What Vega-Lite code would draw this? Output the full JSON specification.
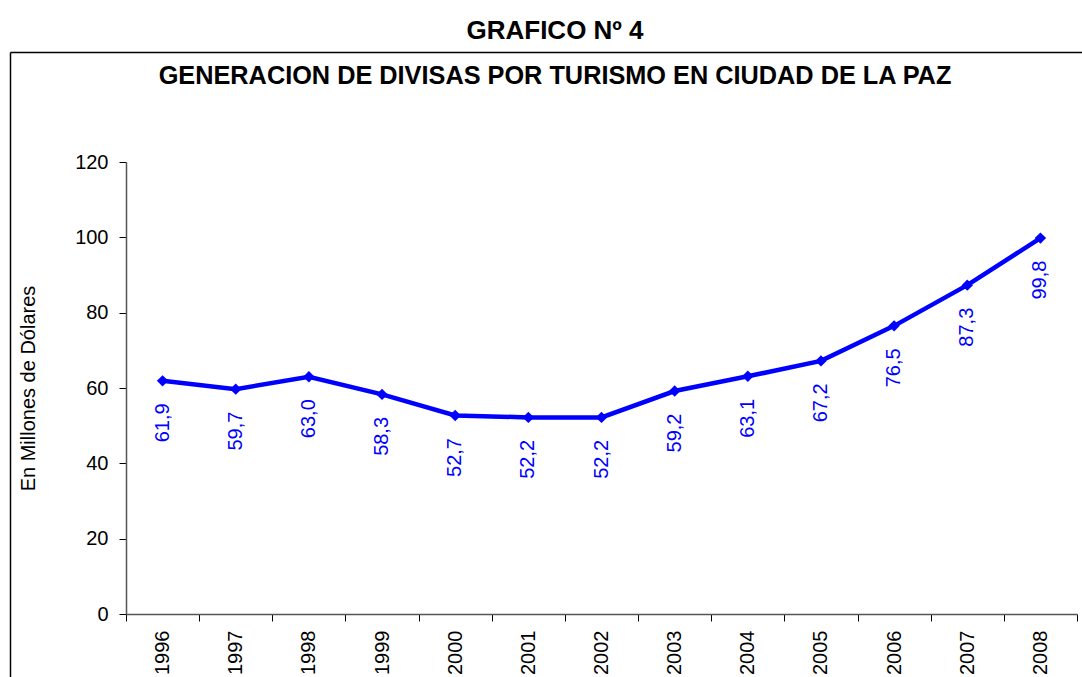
{
  "$schema": "https://vega.github.io/schema/vega-lite/v6.json",
  "autosize": "none",
  "width": 1110,
  "height": 650,
  "padding": {"left": 10, "top": 52, "right": 0, "bottom": 0},
  "background": "white",
  "config": {
    "view": {"stroke": null},
    "font": "Liberation Sans",
    "locale": {"number": {"decimal": ",", "thousands": ".", "grouping": [3], "currency": ["", ""]}}
  },
  "title": {
    "text": "GRAFICO Nº 4",
    "subtitle": "GENERACION DE DIVISAS POR TURISMO EN CIUDAD DE LA PAZ",
    "anchor": "middle",
    "frame": "group",
    "dx": -10,
    "font": "Liberation Sans",
    "fontSize": 26,
    "fontWeight": "bold",
    "color": "#000000",
    "subtitleFont": "Liberation Sans",
    "subtitleFontSize": 25.3,
    "subtitleFontWeight": "bold",
    "subtitleColor": "#000000",
    "subtitlePadding": 20,
    "offset": -40
  },
  "data": {
    "values": [
      {"anio": "1996", "valor": 61.9},
      {"anio": "1997", "valor": 59.7},
      {"anio": "1998", "valor": 63.0},
      {"anio": "1999", "valor": 58.3},
      {"anio": "2000", "valor": 52.7},
      {"anio": "2001", "valor": 52.2},
      {"anio": "2002", "valor": 52.2},
      {"anio": "2003", "valor": 59.2},
      {"anio": "2004", "valor": 63.1},
      {"anio": "2005", "valor": 67.2},
      {"anio": "2006", "valor": 76.5},
      {"anio": "2007", "valor": 87.3},
      {"anio": "2008", "valor": 99.8}
    ]
  },
  "resolve": {"scale": {"x": "independent", "y": "independent"}},
  "layer": [
    {
      "data": {"values": [{"bx": 0, "by": 0}, {"bx": 1, "by": 1}]},
      "mark": {"type": "point", "opacity": 0},
      "encoding": {
        "x": {
          "field": "bx",
          "type": "quantitative",
          "scale": {"domain": [0, 1], "range": [0, 1110], "nice": false},
          "axis": {"orient": "top", "offset": 0, "title": null, "labels": false, "ticks": false, "grid": false, "domainColor": "#000000", "domainWidth": 1.5}
        },
        "y": {
          "field": "by",
          "type": "quantitative",
          "scale": {"domain": [0, 1], "range": [650, 0], "nice": false},
          "axis": {"orient": "left", "offset": 0, "title": null, "labels": false, "ticks": false, "grid": false, "domainColor": "#000000", "domainWidth": 1.5}
        }
      }
    },
    {
      "encoding": {
        "x": {
          "field": "anio",
          "type": "ordinal",
          "scale": {"type": "band", "range": [116, 1067], "paddingInner": 0, "paddingOuter": 0},
          "axis": {
            "orient": "bottom",
            "title": null,
            "offset": -88,
            "tickBand": "extent",
            "labelAngle": -90,
            "labelFontSize": 20,
            "labelColor": "#000000",
            "labelPadding": 9,
            "tickSize": 7,
            "tickColor": "#000000",
            "domainColor": "#555555",
            "domainWidth": 1.5,
            "grid": false
          }
        },
        "y": {
          "field": "valor",
          "type": "quantitative",
          "scale": {"domain": [0, 120], "range": [562, 110], "nice": false, "zero": true},
          "axis": {
            "orient": "left",
            "title": "En Millones de Dólares",
            "titleFontSize": 20,
            "titleFontWeight": "normal",
            "titleColor": "#000000",
            "titlePadding": 36,
            "offset": -116,
            "values": [0, 20, 40, 60, 80, 100, 120],
            "labelFontSize": 20,
            "labelColor": "#000000",
            "labelPadding": 11,
            "tickSize": 7,
            "tickColor": "#000000",
            "domainColor": "#555555",
            "domainWidth": 1.5,
            "grid": false
          }
        }
      },
      "layer": [
        {"mark": {"type": "line", "color": "#0000FF", "strokeWidth": 4.5}},
        {"mark": {"type": "point", "shape": "diamond", "filled": true, "color": "#0000FF", "size": 130, "opacity": 1}},
        {
          "mark": {"type": "text", "angle": -90, "align": "center", "baseline": "middle", "dx": -42, "fontSize": 20, "color": "#0000FF", "font": "Liberation Sans"},
          "encoding": {"text": {"field": "valor", "type": "quantitative", "format": ".1f"}}
        }
      ]
    }
  ]
}
